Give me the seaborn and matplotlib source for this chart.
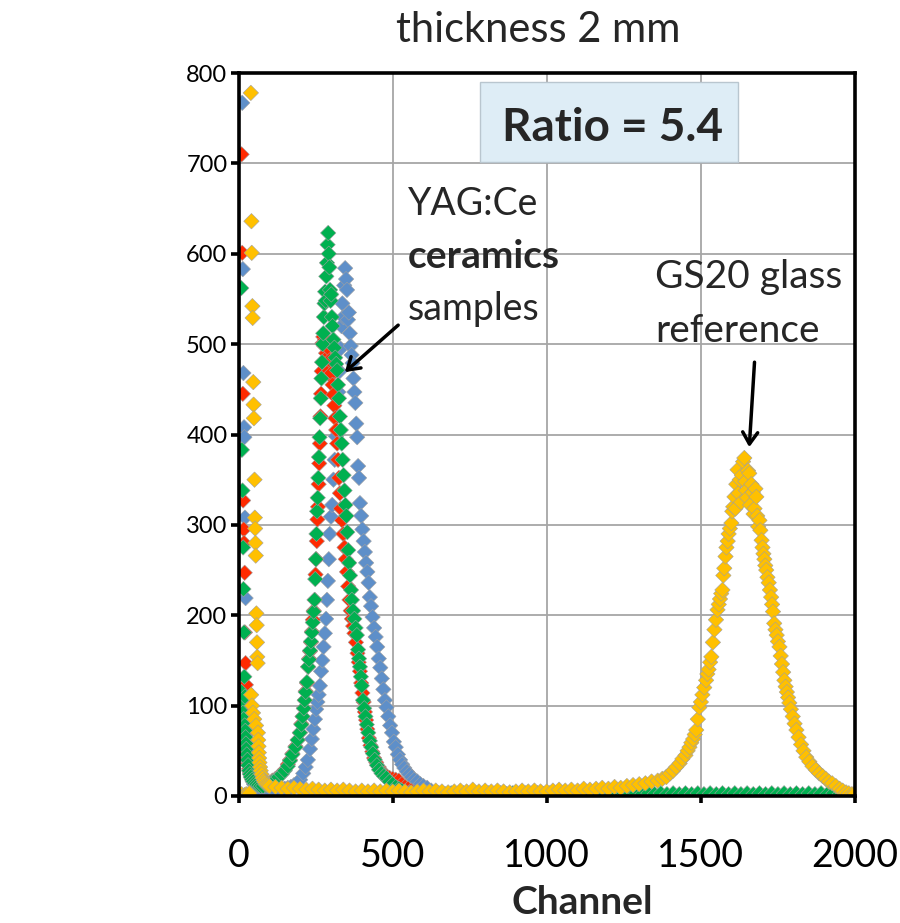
import matplotlib
matplotlib.use("Agg")
import matplotlib.pyplot as plt
from matplotlib.patches import Rectangle
import numpy as np
import pandas as pd
import seaborn as sns

# ---------------- data (channel, counts) ----------------
blue_points = [
    (12, 767), (13, 120), (14, 583), (15, 105), (16, 468), (17, 98), (18, 408), (19, 397),
    (20, 90), (21, 308), (22, 82), (23, 219), (24, 75), (25, 117), (26, 68), (27, 60),
    (28, 52), (30, 45), (32, 38), (35, 30), (38, 25), (42, 20), (46, 16), (50, 13), (55, 11),
    (60, 9), (70, 8), (80, 7), (90, 7), (100, 6), (110, 7), (120, 6), (130, 7), (140, 8),
    (150, 8), (160, 9), (170, 10), (180, 12), (190, 14), (200, 18), (210, 25), (218, 32),
    (225, 40), (232, 52), (238, 63), (243, 74), (248, 85), (252, 96), (256, 104), (260, 112),
    (264, 122), (268, 138), (272, 150), (276, 165), (280, 180), (284, 196), (287, 217),
    (290, 238), (293, 262), (296, 290), (300, 309), (304, 322), (308, 350), (312, 372),
    (316, 398), (320, 420), (324, 447), (328, 470), (331, 495), (334, 520), (337, 545),
    (340, 530), (343, 565), (346, 584), (349, 572), (352, 560), (355, 527), (358, 535),
    (361, 512), (364, 498), (367, 488), (370, 479), (373, 462), (376, 447), (379, 435),
    (382, 412), (385, 397), (388, 365), (391, 352), (394, 324), (398, 310), (402, 295),
    (406, 282), (410, 270), (414, 258), (418, 248), (422, 236), (426, 220), (430, 210),
    (435, 198), (440, 186), (445, 176), (450, 165), (455, 152), (460, 142), (465, 130),
    (470, 118), (475, 106), (480, 98), (486, 88), (492, 78), (498, 70), (504, 60), (510, 54),
    (517, 46), (524, 40), (531, 35), (538, 31), (546, 27), (554, 24), (562, 21), (570, 18),
    (580, 16), (590, 13), (600, 11), (612, 9), (625, 6), (640, 4), (655, 2), (670, 1),
]

red_points = [
    (10, 710), (11, 110), (12, 601), (13, 95), (14, 445), (15, 327), (16, 88), (17, 295),
    (18, 280), (19, 78), (20, 247), (21, 181), (22, 70), (23, 147), (24, 123), (25, 62),
    (26, 100), (27, 55), (28, 48), (30, 42), (32, 36), (35, 30), (38, 26), (42, 22), (46, 19),
    (50, 17), (55, 15), (60, 14), (70, 13), (80, 12), (90, 13), (100, 14), (110, 17),
    (120, 19), (130, 22), (140, 25), (150, 29), (160, 35), (167, 40), (175, 47), (185, 55),
    (192, 62), (199, 70), (204, 80), (208, 88), (212, 97), (215, 106), (218, 116), (222, 125),
    (226, 143), (229, 152), (232, 160), (235, 170), (238, 182), (241, 195), (244, 205),
    (247, 217), (250, 245), (252, 262), (254, 282), (256, 306), (258, 320), (260, 345),
    (262, 368), (264, 390), (266, 420), (268, 445), (270, 470), (272, 501), (275, 508),
    (278, 498), (281, 505), (284, 490), (287, 485), (290, 496), (293, 470), (296, 482),
    (299, 465), (302, 468), (305, 455), (308, 444), (311, 432), (314, 418), (317, 405),
    (320, 390), (323, 372), (326, 352), (329, 335), (332, 318), (336, 305), (340, 290),
    (344, 275), (348, 262), (352, 248), (356, 232), (360, 217), (364, 205), (368, 196),
    (372, 188), (376, 180), (381, 170), (386, 158), (390, 148), (394, 138), (398, 125),
    (402, 114), (406, 104), (410, 93), (414, 84), (418, 74), (423, 64), (428, 56), (434, 49),
    (440, 42), (447, 37), (455, 32), (463, 28), (471, 25), (480, 22), (490, 20), (500, 19),
    (510, 18), (520, 17), (530, 13), (540, 10), (550, 8), (560, 6), (570, 4), (585, 2),
    (600, 1),
]

green_points = [
    (9, 562), (10, 115), (11, 383), (12, 100), (13, 338), (14, 92), (15, 275), (16, 229),
    (17, 85), (18, 181), (19, 132), (20, 78), (21, 110), (22, 72), (23, 65), (24, 58),
    (25, 52), (27, 46), (29, 40), (31, 34), (34, 28), (37, 24), (40, 21), (44, 18), (48, 16),
    (53, 14), (59, 13), (65, 12), (72, 11), (80, 11), (90, 12), (100, 13), (110, 16),
    (120, 18), (130, 21), (140, 24), (150, 28), (160, 33), (167, 39), (175, 46), (185, 54),
    (192, 62), (199, 70), (204, 79), (208, 88), (212, 97), (215, 106), (218, 115), (222, 126),
    (226, 143), (229, 151), (232, 161), (235, 171), (238, 181), (241, 192), (244, 204),
    (247, 217), (249, 240), (251, 262), (253, 290), (255, 315), (257, 330), (259, 352),
    (261, 375), (263, 397), (265, 418), (267, 440), (269, 462), (271, 480), (273, 500),
    (275, 512), (277, 530), (279, 545), (281, 558), (283, 548), (285, 575), (287, 590),
    (289, 610), (291, 623), (293, 600), (295, 585), (297, 560), (299, 548), (301, 555),
    (303, 530), (305, 520), (308, 505), (311, 496), (314, 485), (317, 478), (320, 471),
    (323, 455), (326, 440), (329, 420), (332, 405), (335, 390), (338, 372), (341, 355),
    (344, 338), (347, 322), (350, 310), (353, 292), (356, 272), (359, 258), (362, 244),
    (365, 228), (368, 217), (372, 205), (376, 196), (380, 186), (384, 178), (388, 162),
    (391, 152), (394, 143), (397, 132), (400, 122), (404, 106), (408, 97), (412, 88),
    (416, 79), (421, 70), (426, 61), (431, 54), (436, 47), (442, 40), (449, 34), (456, 29),
    (464, 25), (472, 22), (480, 20), (490, 16), (500, 13), (510, 10), (520, 8), (530, 6),
    (540, 4), (555, 3), (570, 3),
    (590, 2), (610, 3), (630, 2), (650, 3), (670, 2), (690, 3), (710, 2), (730, 3), (750, 2),
    (770, 3), (790, 2), (810, 3), (830, 2), (850, 3), (870, 2), (890, 3), (910, 2), (930, 3),
    (950, 2), (970, 3), (990, 2), (1010, 3), (1030, 2), (1050, 3), (1070, 2), (1090, 3),
    (1110, 2), (1130, 3), (1150, 2), (1170, 3), (1190, 2), (1210, 3), (1230, 2), (1250, 3),
    (1270, 2), (1290, 3), (1310, 2), (1330, 3), (1350, 2), (1370, 3), (1390, 2), (1410, 3),
    (1430, 2), (1450, 3), (1470, 2), (1490, 3), (1510, 2), (1530, 3), (1550, 2), (1570, 3),
    (1590, 2), (1610, 3), (1630, 2), (1650, 3), (1670, 2), (1690, 3), (1710, 2), (1730, 3),
    (1750, 2), (1770, 3), (1790, 2), (1810, 3), (1830, 2), (1850, 3), (1870, 2), (1890, 3),
    (1910, 2), (1930, 3), (1950, 2),
]

yellow_points = [
    (0, 2), (5, 1), (10, 2), (15, 0), (20, 1), (25, 2), (30, 1), (35, 3),
    (40, 778), (41, 112), (42, 636), (43, 601), (44, 100), (45, 542), (46, 529), (47, 92),
    (48, 458), (49, 433), (50, 418), (51, 85), (52, 350), (53, 308), (54, 296), (55, 280),
    (56, 266), (57, 78), (58, 202), (59, 189), (60, 170), (61, 154), (62, 147), (63, 70),
    (64, 62), (65, 55), (66, 48), (67, 42), (68, 37), (70, 32), (72, 28), (75, 24), (78, 20),
    (82, 17), (86, 15), (90, 13), (95, 12),
    (100, 11), (120, 10), (140, 9), (160, 8), (180, 9), (200, 8), (220, 7), (240, 8),
    (260, 7), (280, 6), (300, 7), (320, 6), (340, 7), (360, 6), (380, 5), (400, 6), (420, 5),
    (440, 6), (460, 5), (480, 6), (500, 5), (520, 6), (540, 5), (560, 4), (580, 5), (600, 6),
    (620, 5), (640, 6), (660, 5), (680, 4), (700, 5), (720, 6), (740, 5), (760, 7), (780, 5),
    (800, 6), (820, 5), (840, 6), (860, 5), (880, 4), (900, 5), (920, 6), (940, 5), (960, 6),
    (980, 5), (1000, 5), (1020, 6), (1040, 7), (1060, 6), (1080, 7), (1100, 6), (1120, 8),
    (1140, 7), (1160, 8), (1180, 9), (1200, 8), (1220, 10), (1240, 9), (1260, 11), (1280, 12),
    (1300, 13), (1320, 14), (1340, 16), (1360, 17), (1375, 19),
    (1388, 21), (1400, 25), (1410, 28), (1420, 32), (1431, 36), (1440, 41), (1450, 45),
    (1457, 50), (1463, 54), (1469, 59), (1475, 63), (1480, 68), (1485, 73), (1490, 85),
    (1495, 98), (1500, 104), (1505, 112), (1511, 120), (1517, 128), (1521, 135), (1525, 140),
    (1530, 148), (1534, 154), (1539, 170), (1544, 184), (1549, 195), (1554, 206), (1558, 212),
    (1562, 218), (1566, 224), (1570, 228), (1573, 244), (1576, 252), (1580, 265), (1583, 275),
    (1587, 282), (1590, 290), (1594, 296), (1599, 302), (1602, 315), (1605, 320), (1609, 331),
    (1612, 318), (1615, 345), (1619, 361), (1622, 335), (1626, 350), (1630, 325), (1633, 355),
    (1637, 370), (1641, 374), (1644, 348), (1647, 338), (1650, 330), (1653, 360), (1657, 357),
    (1660, 322), (1664, 345), (1668, 336), (1671, 312), (1674, 318), (1677, 340), (1680, 331),
    (1683, 310), (1686, 298), (1690, 305), (1693, 294), (1697, 283), (1700, 275), (1703, 268),
    (1706, 262), (1709, 255), (1712, 250), (1716, 242), (1720, 236), (1724, 228), (1728, 220),
    (1731, 212), (1734, 204), (1738, 191), (1742, 184), (1746, 178), (1750, 171), (1755, 165),
    (1759, 155), (1763, 146), (1767, 137), (1771, 128), (1775, 121), (1779, 115), (1783, 109),
    (1787, 103), (1792, 96), (1798, 88), (1804, 80), (1810, 73), (1817, 65), (1825, 57),
    (1833, 50), (1842, 43), (1852, 38), (1862, 33), (1873, 29), (1884, 25), (1895, 22),
    (1905, 19), (1915, 16), (1926, 14), (1938, 11), (1950, 8), (1960, 6), (1971, 4),
    (1980, 3), (1990, 2), (2000, 3),
]

series_names = ["blue", "red", "green", "yellow"]
series_colors = {"blue": "#5e8fc9", "red": "#ff2a00", "green": "#00b050", "yellow": "#ffc000"}
x_ticks = [0, 500, 1000, 1500, 2000]
y_ticks = [0, 100, 200, 300, 400, 500, 600, 700, 800]

# ---------------- build frame ----------------
frames = []
for name, pts in zip(series_names, [blue_points, red_points, green_points, yellow_points]):
    d = pd.DataFrame(pts, columns=["channel", "counts"])
    d["series"] = name
    frames.append(d)
df = pd.concat(frames, ignore_index=True)

# ---------------- style ----------------
sns.set_theme(style="white")
plt.rcParams["font.family"] = ["Lato", "DejaVu Sans"]

W_PX, H_PX = 900, 923
fig = plt.figure(figsize=(9, 9.23), dpi=100)
x0, x1, y0, y1 = 238.5, 855, 73, 796
ax = fig.add_axes([x0 / W_PX, 1 - y1 / H_PX, (x1 - x0) / W_PX, (y1 - y0) / H_PX])

sns.scatterplot(data=df, x="channel", y="counts", hue="series", palette=series_colors,
                hue_order=series_names, marker="D", s=62, edgecolor="#a0a0a0",
                linewidth=0.4, legend=False, ax=ax, clip_on=True, zorder=2)

ax.set_xlim(0, 2000)
ax.set_ylim(0, 800)
ax.set_xticks(x_ticks)
ax.set_yticks(y_ticks)
ax.set_xticklabels([str(t) for t in x_ticks])
ax.set_yticklabels([str(t) for t in y_ticks])
ax.grid(True, color="#a6a6a6", lw=1.3)
ax.set_axisbelow(True)
for sp in ax.spines.values():
    sp.set_visible(True)
    sp.set_color("black")
    sp.set_linewidth(2.6)
    sp.set_zorder(4)
ax.tick_params(axis="y", which="both", left=True, direction="out", length=6, width=2.6,
               labelsize=17, pad=2, colors="black")
ax.tick_params(axis="x", which="both", bottom=True, direction="out", length=5, width=2.6,
               labelsize=27, pad=25, colors="black")
ax.set_xlabel("")
ax.set_ylabel("")

def fx(px):
    return px / W_PX

def fy(py):
    return 1 - py / H_PX

fig.text(fx(538), fy(42), "thickness 2 mm", ha="center", va="baseline", fontsize=30)
fig.text(fx(582), fy(914), "Channel", ha="center", va="baseline", fontsize=28, fontweight="bold")

# Ratio box
rect = Rectangle((fx(480), fy(162)), (738 - 480) / W_PX, (162 - 82) / H_PX,
                 transform=fig.transFigure, facecolor="#deedf6", edgecolor="#b9c6cf",
                 lw=1.0, zorder=5)
fig.patches.append(rect)
fig.text(fx(612), fy(141), "Ratio = 5.4", ha="center", va="baseline", fontsize=33,
         fontweight="bold", zorder=6)

fig.text(fx(408), fy(215), "YAG:Ce", ha="left", va="baseline", fontsize=27)
fig.text(fx(408), fy(268), "ceramics", ha="left", va="baseline", fontsize=28, fontweight="bold")
fig.text(fx(408), fy(320), "samples", ha="left", va="baseline", fontsize=27)
fig.text(fx(655), fy(288), "GS20 glass", ha="left", va="baseline", fontsize=28)
fig.text(fx(655), fy(342), "reference", ha="left", va="baseline", fontsize=28)

arrow = dict(arrowstyle="->,head_length=0.7,head_width=0.45", color="black", lw=2.5,
             shrinkA=0, shrinkB=0)
ax.annotate("", xy=(345, 469), xytext=(518, 521), arrowprops=arrow, annotation_clip=False)
ax.annotate("", xy=(1657, 386), xytext=(1674, 480), arrowprops=arrow, annotation_clip=False)

fig.savefig("out.png", dpi=100)
